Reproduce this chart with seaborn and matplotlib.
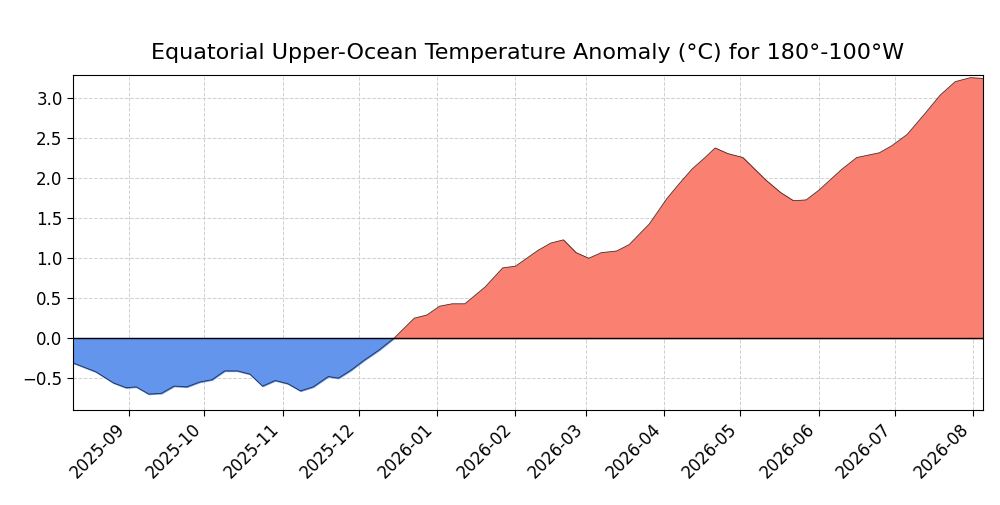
import matplotlib
matplotlib.use("Agg")
import matplotlib.pyplot as plt
import matplotlib.dates as mdates
import seaborn as sns
import pandas as pd
import numpy as np

dates = ["2025-08-10","2025-08-19","2025-08-26","2025-08-31","2025-09-04","2025-09-09","2025-09-14",
         "2025-09-19","2025-09-24","2025-09-29","2025-10-04","2025-10-09","2025-10-14","2025-10-19",
         "2025-10-24","2025-10-29","2025-11-03","2025-11-08","2025-11-13","2025-11-19","2025-11-23",
         "2025-11-28","2025-12-03","2025-12-09","2025-12-15","2025-12-23","2025-12-28","2026-01-02",
         "2026-01-07","2026-01-12","2026-01-20","2026-01-27","2026-02-01","2026-02-10","2026-02-15",
         "2026-02-20","2026-02-25","2026-03-02","2026-03-07","2026-03-13","2026-03-18","2026-03-26",
         "2026-04-02","2026-04-07","2026-04-12","2026-04-17","2026-04-21","2026-04-26","2026-05-02",
         "2026-05-11","2026-05-17","2026-05-22","2026-05-27","2026-06-01","2026-06-10","2026-06-16",
         "2026-06-25","2026-06-30","2026-07-06","2026-07-13","2026-07-19","2026-07-25","2026-07-31",
         "2026-08-05"]
anomaly = [-0.31,-0.42,-0.56,-0.62,-0.61,-0.70,-0.69,
           -0.60,-0.61,-0.55,-0.52,-0.41,-0.41,-0.45,
           -0.60,-0.53,-0.57,-0.66,-0.61,-0.48,-0.50,
           -0.40,-0.28,-0.15,0.0,0.25,0.29,0.40,
           0.43,0.43,0.64,0.88,0.90,1.10,1.19,
           1.23,1.07,1.00,1.07,1.09,1.17,1.43,
           1.75,1.94,2.12,2.26,2.38,2.31,2.26,
           1.98,1.82,1.72,1.73,1.85,2.11,2.26,
           2.32,2.41,2.55,2.81,3.04,3.21,3.26,
           3.25]

df = pd.DataFrame({"date": pd.to_datetime(dates), "anomaly": anomaly})

sns.set_style("white")
plt.rcParams["text.color"] = "black"
plt.rcParams["xtick.color"] = "black"
plt.rcParams["ytick.color"] = "black"
fig, ax = plt.subplots(figsize=(10, 5.05), dpi=100)
x = df["date"].values
y = df["anomaly"].values
ax.fill_between(x, y, 0, where=y >= 0, interpolate=True, color="#fa8072")
ax.fill_between(x, y, 0, where=y <= 0, interpolate=True, color="#6495ed")
sns.lineplot(data=df, x="date", y="anomaly", ax=ax, color="black", linewidth=0.6, alpha=0.7)
ax.axhline(0, color="black", linewidth=1)
ax.set_xlim(x[0], x[-1])
ax.set_ylim(-0.9, 3.29)
ax.grid(True, linestyle="--", color="#d0d0d0", linewidth=0.7)
ax.xaxis.set_major_locator(mdates.MonthLocator())
ax.xaxis.set_major_formatter(mdates.DateFormatter("%Y-%m"))
plt.setp(ax.get_xticklabels(), rotation=45, ha="right")
ax.tick_params(labelsize=12, length=4, bottom=True, left=True)
ax.set_xlabel("")
ax.set_ylabel("")
ax.set_title("Equatorial Upper-Ocean Temperature Anomaly (°C) for 180°-100°W", fontsize=16, pad=12)
for s in ax.spines.values():
    s.set_color("black"); s.set_linewidth(0.8)
fig.subplots_adjust(left=0.073, right=0.983, top=0.851, bottom=0.188)
fig.savefig("out.png", dpi=100)
